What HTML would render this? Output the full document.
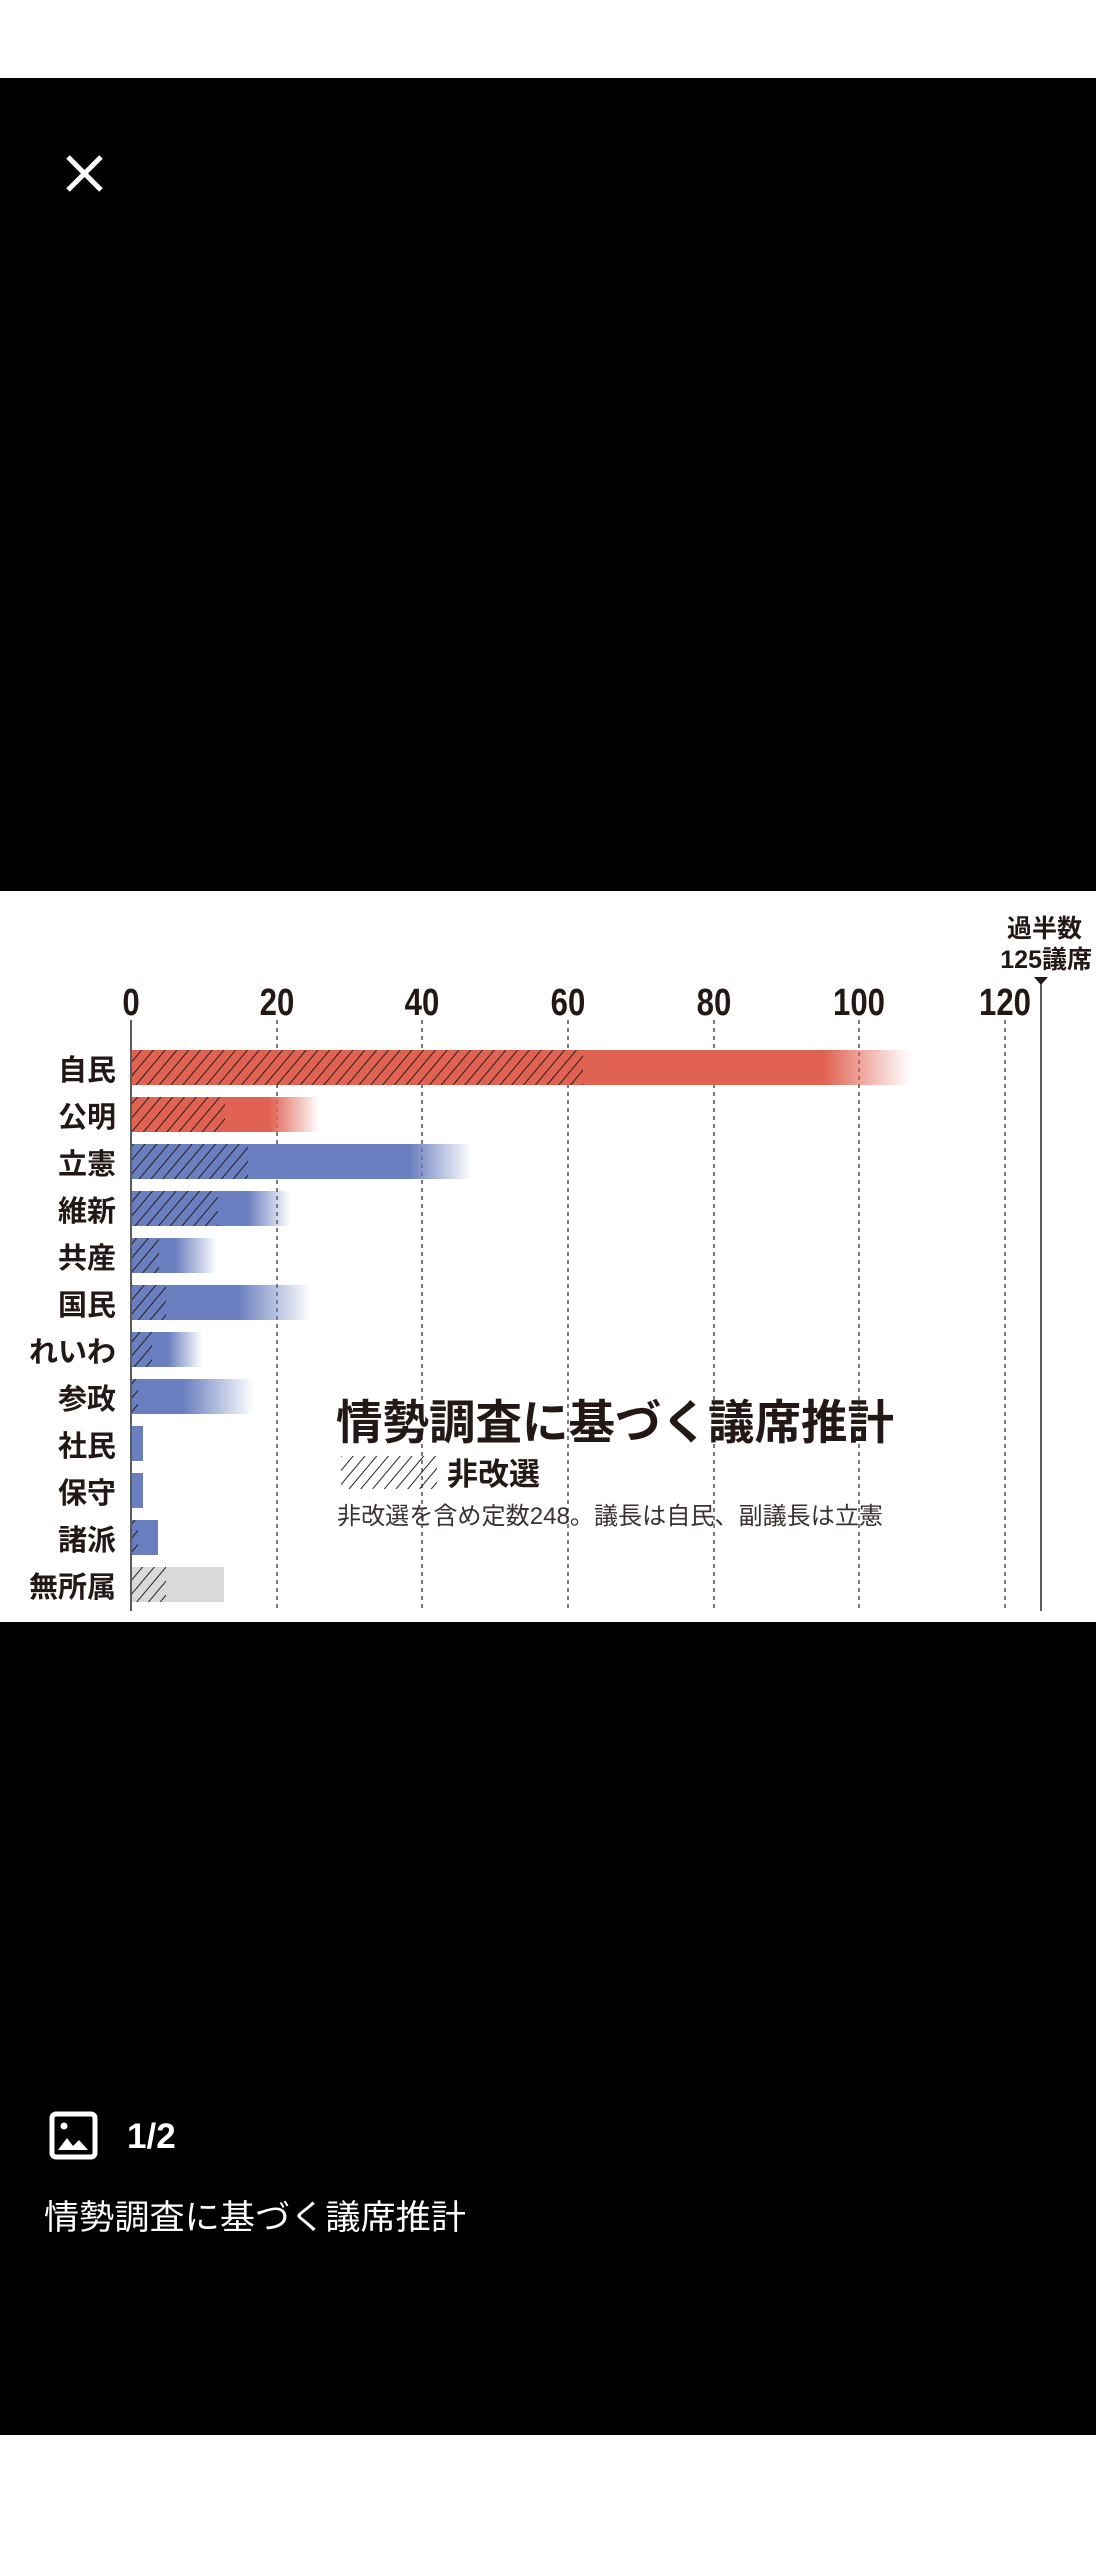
<!DOCTYPE html>
<html><head><meta charset="utf-8"><style>
html,body{margin:0;padding:0;background:#fff;}
body{width:1096px;height:2560px;position:relative;overflow:hidden;font-family:"Liberation Sans","Noto Sans CJK JP",sans-serif;}
</style></head><body>
<svg width="1096" height="2560" viewBox="0 0 1096 2560" xmlns="http://www.w3.org/2000/svg" style="position:absolute;left:0;top:0">
<defs>
<pattern id="h" patternUnits="userSpaceOnUse" width="9" height="9" patternTransform="rotate(40)">
<line x1="0" y1="0" x2="0" y2="9" stroke="#231815" stroke-width="1.9"/>
</pattern>
<linearGradient id="fr" x1="0" x2="1"><stop offset="0" stop-color="#e06252"/><stop offset="1" stop-color="#e06252" stop-opacity="0"/></linearGradient>
<linearGradient id="fb" x1="0" x2="1"><stop offset="0" stop-color="#6a7fbf"/><stop offset="1" stop-color="#6a7fbf" stop-opacity="0"/></linearGradient>
</defs>
<rect x="0" y="0" width="1096" height="78" fill="#fff"/>
<rect x="0" y="78" width="1096" height="813" fill="#000"/>
<rect x="0" y="891" width="1096" height="731" fill="#fff"/>
<rect x="0" y="1622" width="1096" height="813" fill="#000"/>
<rect x="0" y="2435" width="1096" height="125" fill="#fff"/>
<g stroke="#fff" stroke-width="5"><line x1="68" y1="157" x2="101" y2="190"/><line x1="101" y1="157" x2="68" y2="190"/></g>
<g stroke="#333" stroke-width="1.3" stroke-dasharray="4,4">
<line x1="277" y1="1020" x2="277" y2="1611"/><line x1="422" y1="1020" x2="422" y2="1611"/>
<line x1="568" y1="1020" x2="568" y2="1611"/><line x1="714" y1="1020" x2="714" y2="1611"/>
<line x1="859" y1="1020" x2="859" y2="1611"/><line x1="1005" y1="1020" x2="1005" y2="1611"/>
</g>
<line x1="131" y1="1020" x2="131" y2="1611" stroke="#333" stroke-width="1.6"/>
<line x1="1041" y1="982" x2="1041" y2="1611" stroke="#333" stroke-width="1.6"/>
<polygon points="1034,977 1048,977 1041,985" fill="#231815"/>
<g font-size="38" font-weight="bold" fill="#231815" text-anchor="middle">
<text x="131" y="1015" transform="translate(131 0) scale(0.82 1) translate(-131 0)">0</text>
<text x="277" y="1015" transform="translate(277 0) scale(0.82 1) translate(-277 0)">20</text>
<text x="422" y="1015" transform="translate(422 0) scale(0.82 1) translate(-422 0)">40</text>
<text x="568" y="1015" transform="translate(568 0) scale(0.82 1) translate(-568 0)">60</text>
<text x="714" y="1015" transform="translate(714 0) scale(0.82 1) translate(-714 0)">80</text>
<text x="859" y="1015" transform="translate(859 0) scale(0.82 1) translate(-859 0)">100</text>
<text x="1005" y="1015" transform="translate(1005 0) scale(0.82 1) translate(-1005 0)">120</text>
</g>
<g font-size="25" font-weight="bold" fill="#231815" text-anchor="end">
<text x="1082" y="937">過半数</text>
<text x="1092" y="968">125議席</text>
</g>
<g>
<rect x="132" y="1050" width="692" height="35" fill="#e06252"/><rect x="824" y="1050" width="86" height="35" fill="url(#fr)"/><rect x="132" y="1050" width="451" height="35" fill="url(#h)"/>
<rect x="132" y="1097" width="137" height="35" fill="#e06252"/><rect x="269" y="1097" width="50" height="35" fill="url(#fr)"/><rect x="132" y="1097" width="93" height="35" fill="url(#h)"/>
<rect x="132" y="1144" width="277" height="35" fill="#6a7fbf"/><rect x="409" y="1144" width="63" height="35" fill="url(#fb)"/><rect x="132" y="1144" width="116" height="35" fill="url(#h)"/>
<rect x="132" y="1191" width="116" height="35" fill="#6a7fbf"/><rect x="248" y="1191" width="42" height="35" fill="url(#fb)"/><rect x="132" y="1191" width="86" height="35" fill="url(#h)"/>
<rect x="132" y="1238" width="43" height="35" fill="#6a7fbf"/><rect x="175" y="1238" width="42" height="35" fill="url(#fb)"/><rect x="132" y="1238" width="27" height="35" fill="url(#h)"/>
<rect x="132" y="1285" width="106" height="35" fill="#6a7fbf"/><rect x="238" y="1285" width="73" height="35" fill="url(#fb)"/><rect x="132" y="1285" width="34" height="35" fill="url(#h)"/>
<rect x="132" y="1332" width="36" height="35" fill="#6a7fbf"/><rect x="168" y="1332" width="34" height="35" fill="url(#fb)"/><rect x="132" y="1332" width="20" height="35" fill="url(#h)"/>
<rect x="132" y="1379" width="51" height="35" fill="#6a7fbf"/><rect x="183" y="1379" width="71" height="35" fill="url(#fb)"/><rect x="132" y="1379" width="6" height="35" fill="url(#h)"/>
<rect x="132" y="1426" width="11" height="35" fill="#6a7fbf"/>
<rect x="132" y="1473" width="11" height="35" fill="#6a7fbf"/>
<rect x="132" y="1520" width="26" height="35" fill="#6a7fbf"/><rect x="132" y="1520" width="6" height="35" fill="url(#h)"/>
<rect x="132" y="1567" width="92" height="35" fill="#d9d9d9"/><rect x="132" y="1567" width="34" height="35" fill="url(#h)"/>
</g>
<g font-size="29" font-weight="bold" fill="#231815" text-anchor="end">
<text x="116" y="1080">自民</text><text x="116" y="1127">公明</text><text x="116" y="1174">立憲</text>
<text x="116" y="1221">維新</text><text x="116" y="1268">共産</text><text x="116" y="1315">国民</text>
<text x="116" y="1362">れいわ</text><text x="116" y="1409">参政</text><text x="116" y="1456">社民</text>
<text x="116" y="1503">保守</text><text x="116" y="1550">諸派</text><text x="116" y="1597">無所属</text>
</g>
<text x="336" y="1439" font-size="47" font-weight="bold" fill="#231815" textLength="558" lengthAdjust="spacingAndGlyphs">情勢調査に基づく議席推計</text>
<rect x="341" y="1456" width="96" height="33" fill="url(#h)"/>
<text x="447" y="1485" font-size="31" font-weight="bold" fill="#231815">非改選</text>
<text x="337" y="1524" font-size="24" fill="#3a3230" textLength="546" lengthAdjust="spacingAndGlyphs">非改選を含め定数248。議長は自民、副議長は立憲</text>
<rect x="52" y="2114" width="43" height="43" rx="4" fill="none" stroke="#fff" stroke-width="5"/>
<circle cx="64" cy="2126" r="3.5" fill="#fff"/>
<polygon points="58,2150 67,2138 73,2146 79,2140 88,2150" fill="#fff"/>
<text x="127" y="2148" font-size="35" font-weight="bold" fill="#fff">1/2</text>
<text x="44" y="2229" font-size="34" fill="#fff" textLength="422" lengthAdjust="spacingAndGlyphs">情勢調査に基づく議席推計</text>
</svg>
</body></html>
